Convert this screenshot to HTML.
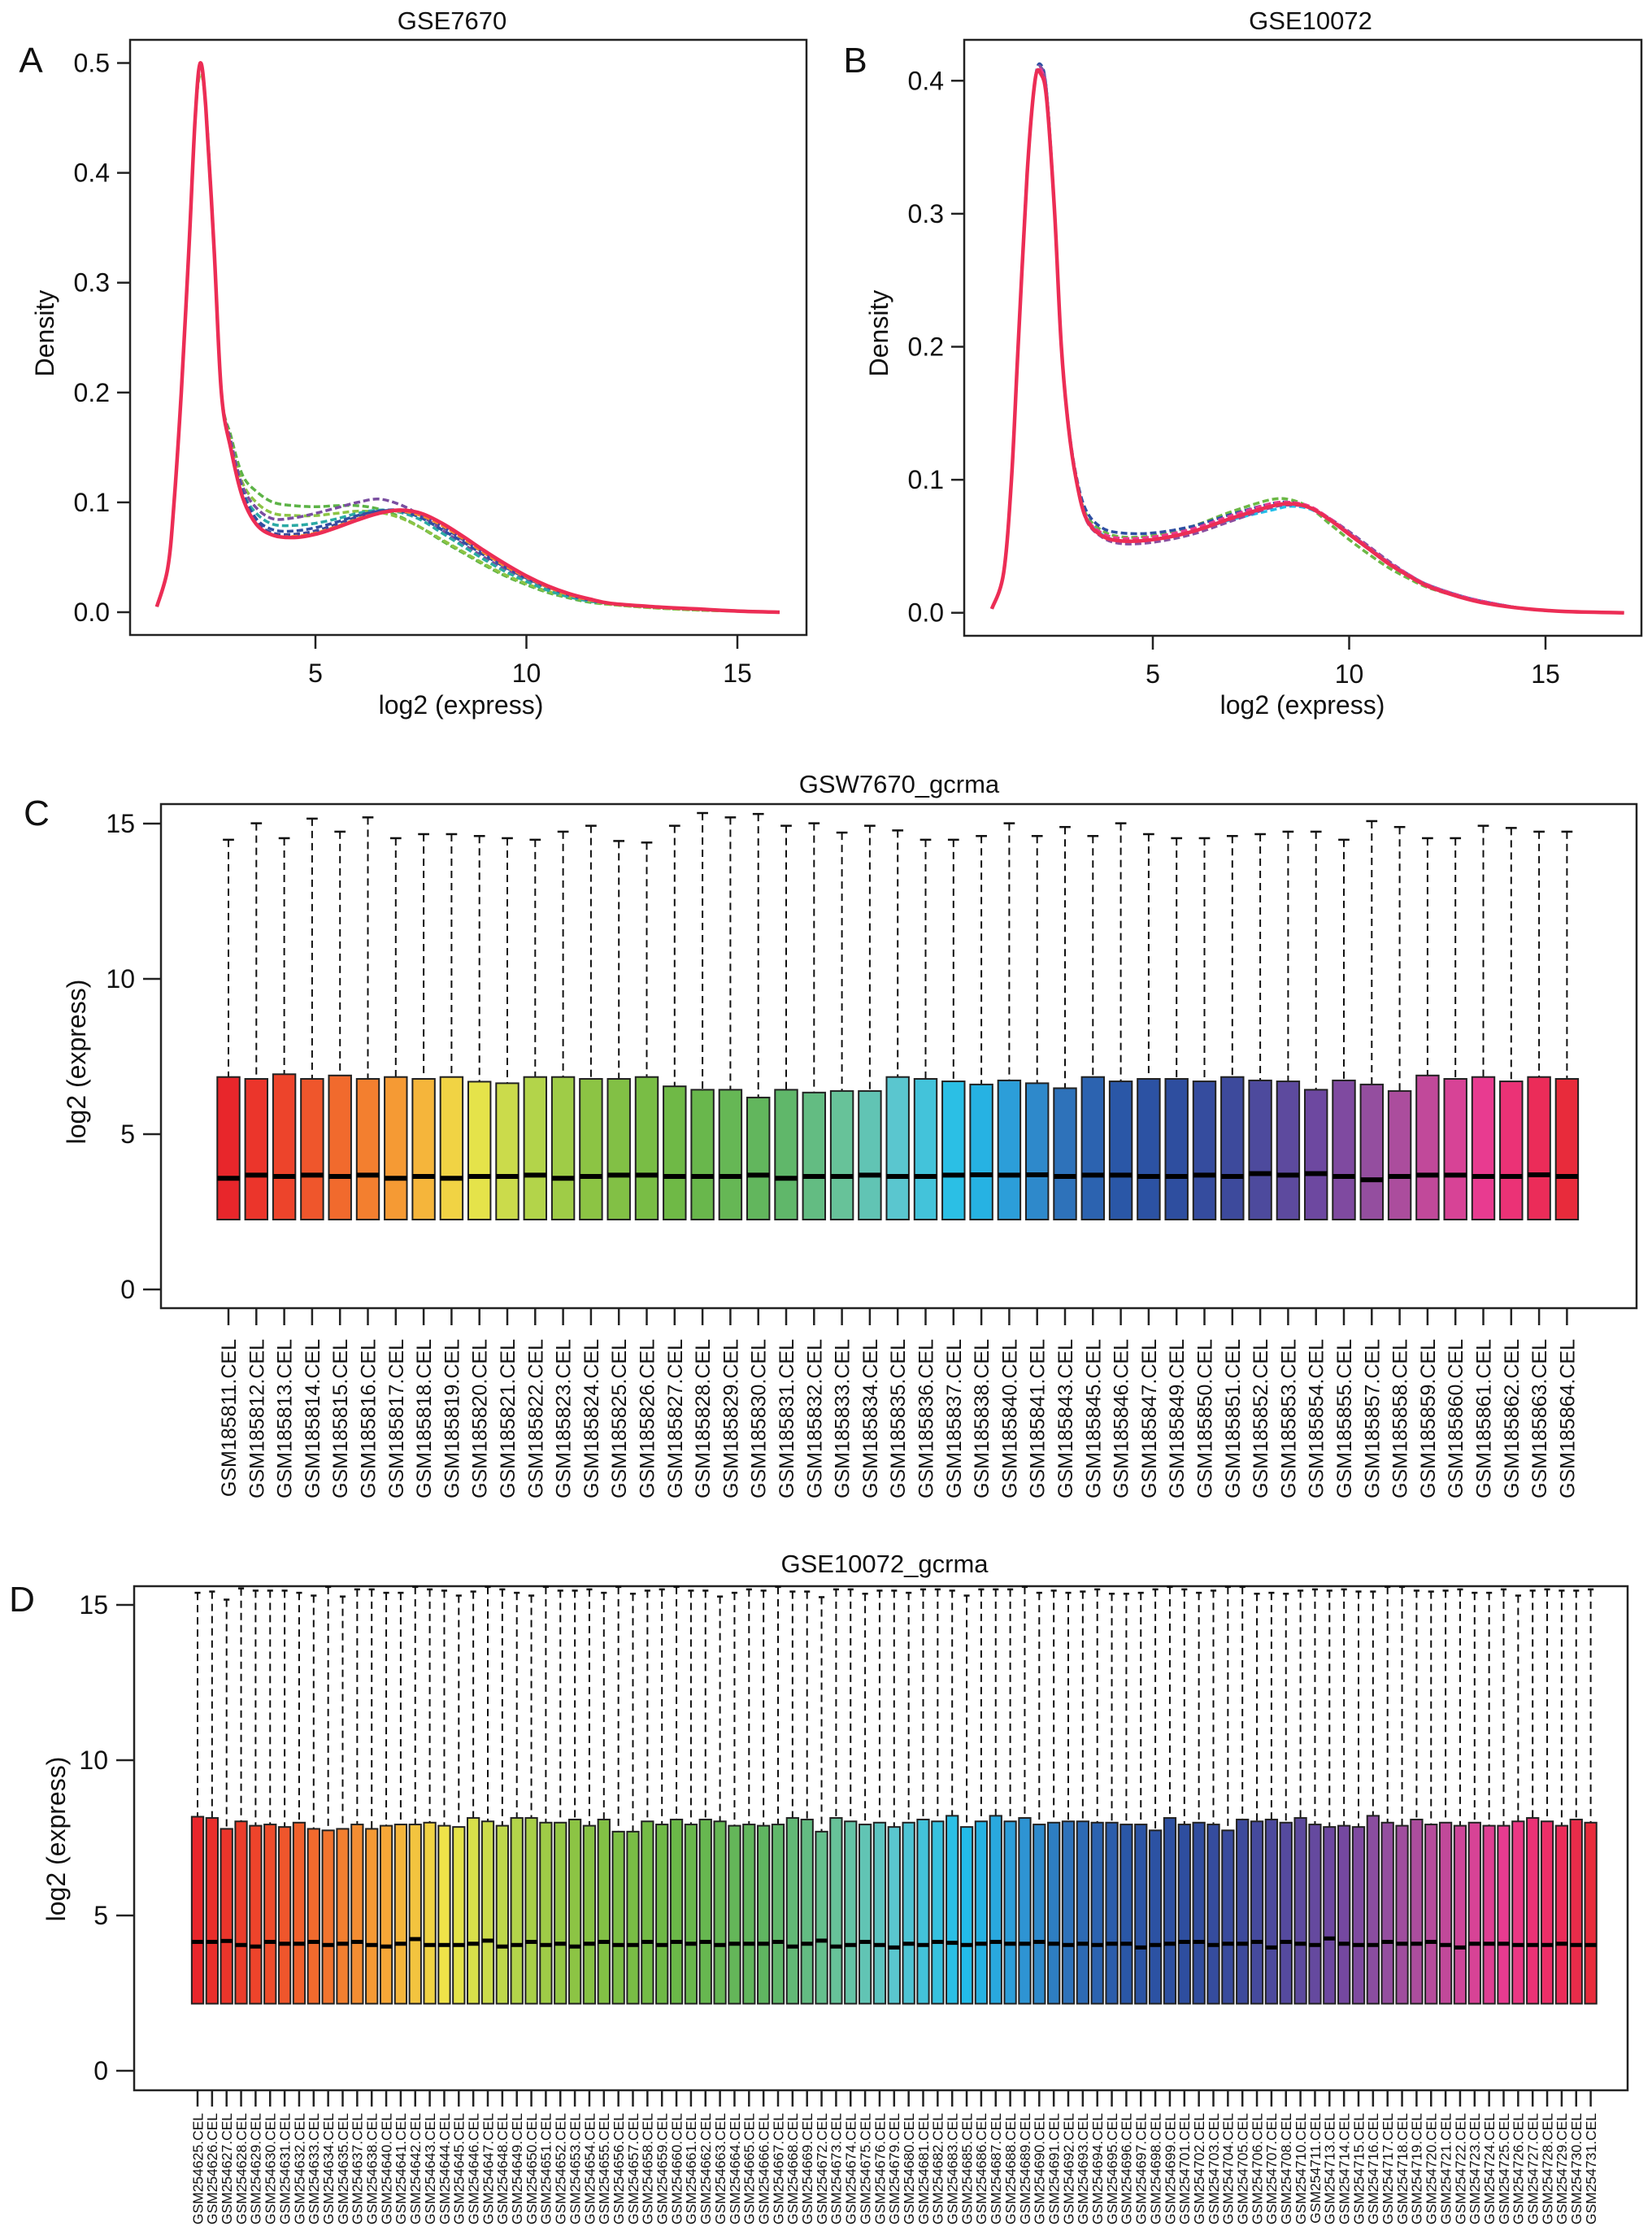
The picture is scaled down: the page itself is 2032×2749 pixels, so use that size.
<!DOCTYPE html>
<html><head><meta charset="utf-8"><style>
html,body{margin:0;padding:0;background:#fff}
svg{display:block}
text{font-family:"Liberation Sans",Arial,sans-serif;fill:#111}
</style></head><body>
<svg id="root" width="2032" height="2749" viewBox="0 0 2032 2749" xmlns="http://www.w3.org/2000/svg">
<g id="gA"></g>
<g id="gB"></g>
<g id="gC"></g>
<g id="gD"></g>
</svg>
<script>
// ---------- Panel A data ----------
const xA = [1.24,1.5,1.65,1.82,2.0,2.15,2.27,2.4,2.6,2.77,3.0,3.27,3.6,4.0,4.5,5.0,5.5,6.0,6.5,7.0,7.5,8.0,8.5,9.0,9.5,10,10.5,11,11.5,12,13,14,15,16];
const aGreen  = [.005,.04,.1,.2,.33,.45,.49,.46,.33,.2,.16,.125,.11,.1,.097,.096,.097,.097,.094,.087,.077,.065,.054,.043,.033,.025,.018,.013,.009,.007,.004,.002,.001,0];
const aGreen2 = [.005,.04,.1,.2,.33,.45,.49,.46,.33,.2,.155,.118,.1,.09,.088,.088,.09,.092,.091,.086,.077,.066,.055,.044,.034,.026,.019,.014,.01,.007,.004,.002,.001,0];
const aPurple = [.005,.04,.1,.2,.33,.45,.5,.46,.33,.2,.155,.115,.095,.085,.086,.09,.095,.1,.103,.098,.088,.075,.062,.05,.039,.03,.022,.015,.011,.008,.005,.003,.001,0];
const aTeal   = [.005,.04,.1,.2,.33,.45,.5,.46,.33,.2,.15,.11,.09,.08,.079,.081,.085,.09,.093,.091,.084,.072,.06,.048,.037,.028,.02,.014,.01,.008,.005,.003,.001,0];
const aBlue   = [.005,.04,.1,.2,.33,.45,.5,.46,.33,.2,.15,.11,.085,.075,.074,.077,.082,.088,.092,.092,.086,.075,.064,.052,.041,.031,.023,.016,.011,.008,.005,.003,.001,0];
const aBlue2  = [.005,.04,.1,.2,.33,.45,.5,.46,.33,.2,.15,.108,.082,.072,.071,.074,.08,.087,.092,.093,.088,.078,.066,.054,.042,.032,.023,.016,.011,.008,.005,.003,.001,0];
const aOrange = [.005,.04,.1,.2,.33,.45,.5,.46,.33,.2,.148,.105,.08,.07,.069,.072,.078,.085,.09,.092,.088,.079,.067,.054,.042,.032,.023,.016,.011,.008,.005,.003,.001,0];
const aRed    = [.005,.04,.1,.2,.33,.45,.5,.46,.33,.2,.148,.105,.08,.07,.068,.071,.077,.084,.09,.093,.09,.081,.069,.056,.044,.033,.024,.017,.012,.008,.005,.003,.001,0];
const seriesA = [aGreen,aGreen2,aPurple,aTeal,aBlue,aBlue2,aOrange,aRed];
const ticksAx = [5,10,15];
const ticksAy = [0,0.1,0.2,0.3,0.4,0.5];
const ticksAyLbl = ["0.0","0.1","0.2","0.3","0.4","0.5"];

// ---------- Panel B data ----------
const xB = [0.9,1.2,1.4,1.57,1.8,2.0,2.15,2.3,2.5,2.67,2.85,3.05,3.3,3.7,4.2,5,6,7,8,8.5,9,9.5,10,10.5,11,11.5,12,12.8,13.5,14.5,15.5,17];
const bGreen  = [.003,.03,.1,.2,.33,.4,.41,.39,.3,.2,.14,.1,.074,.062,.057,.058,.065,.076,.085,.085,.079,.067,.055,.044,.034,.026,.019,.012,.007,.003,.001,0];
const bBlue   = [.003,.03,.1,.2,.33,.4,.412,.39,.3,.2,.142,.103,.077,.064,.06,.06,.065,.074,.082,.083,.079,.07,.059,.048,.038,.028,.021,.013,.008,.003,.001,0];
const bCyan   = [.003,.03,.1,.2,.33,.4,.41,.39,.3,.2,.14,.1,.072,.059,.054,.055,.061,.07,.077,.08,.078,.07,.06,.049,.038,.029,.021,.013,.008,.003,.001,0];
const bPurple = [.003,.03,.1,.2,.33,.4,.41,.39,.3,.2,.14,.1,.07,.057,.052,.053,.059,.069,.079,.081,.079,.071,.061,.05,.039,.029,.021,.013,.008,.003,.001,0];
const bPink   = [.003,.03,.1,.2,.33,.4,.408,.388,.3,.2,.14,.1,.072,.06,.056,.057,.063,.073,.082,.083,.08,.071,.06,.049,.038,.029,.021,.013,.008,.003,.001,0];
const bRed    = [.003,.03,.1,.2,.33,.4,.405,.385,.3,.2,.14,.1,.071,.058,.054,.055,.061,.071,.08,.082,.079,.07,.059,.048,.037,.028,.02,.012,.007,.003,.001,0];
const seriesB = [bGreen,bBlue,bCyan,bPurple,bPink,bRed];
const ticksBx = [5,10,15];
const ticksBy = [0,0.1,0.2,0.3,0.4];
const ticksByLbl = ["0.0","0.1","0.2","0.3","0.4"];

// ---------- Panel C data ----------
const namesC = ["811","812","813","814","815","816","817","818","819","820","821","822","823","824","825","826","827","828","829","830","831","832","833","834","835","836","837","838","840","841","843","845","846","847","849","850","851","852","853","854","855","857","858","859","860","861","862","863","864"];
const q3C = [6.84,6.78,6.93,6.78,6.89,6.78,6.84,6.78,6.84,6.69,6.64,6.84,6.84,6.78,6.78,6.84,6.54,6.43,6.43,6.18,6.43,6.34,
 6.39,6.39,6.84,6.78,6.70,6.60,6.73,6.64,6.48,6.84,6.70,6.78,6.78,6.70,6.84,6.73,6.70,6.43,6.73,6.60,6.39,6.89,6.78,6.84,6.70,6.84,6.78];
const medC = [3.58,3.68,3.64,3.68,3.64,3.68,3.58,3.64,3.58,3.64,3.64,3.68,3.58,3.64,3.68,3.68,3.64,3.64,3.64,3.68,3.58,3.64,
 3.64,3.68,3.64,3.64,3.68,3.69,3.68,3.69,3.64,3.68,3.68,3.64,3.64,3.68,3.64,3.73,3.68,3.73,3.64,3.53,3.64,3.68,3.68,3.64,3.64,3.69,3.64];
const maxC = [14.48,15.01,14.53,15.16,14.74,15.20,14.53,14.66,14.66,14.60,14.53,14.48,14.74,14.93,14.44,14.39,14.93,15.34,15.20,15.31,14.93,15.01,
 14.71,14.93,14.78,14.48,14.48,14.60,15.01,14.60,14.89,14.60,15.01,14.66,14.53,14.53,14.60,14.66,14.74,14.74,14.48,15.08,14.89,14.53,14.53,14.93,14.86,14.74,14.74];
const q1C = 2.25;
const ticksC = [0,5,10,15];

// ---------- Panel D data ----------
const namesD = ["625","626","627","628","629","630","631","632","633","634","635","637","638","640","641","642","643","644","645","646","647","648","649","650","651","652","653","654","655","656","657","658","659","660","661","662","663","664","665","666","667","668","669",
 "672","673","674","675","676","679","680","681","682","683","685","686","687","688","689","690","691","692","693","694","695","696","697","698","699","701","702","703","704","705","706","707","708","710","711","713","714","715","716","717","718","719","720","721","722","723","724","725","726","727","728","729","730","731"];
const q3D = [8.18,8.14,7.79,8.03,7.89,7.93,7.85,7.99,7.79,7.74,7.79,7.93,7.79,7.89,7.93,7.93,7.99,7.89,7.85,8.14,8.03,7.89,8.14,8.14,7.99,7.99,8.09,7.89,8.09,7.70,7.70,8.03,7.93,8.09,7.93,8.09,8.03,7.89,7.93,7.89,7.93,8.14,8.09,
 7.70,8.14,8.03,7.93,7.99,7.85,7.99,8.09,8.03,8.21,7.85,8.03,8.21,8.03,8.14,7.93,7.99,8.03,8.03,7.99,7.99,7.93,7.93,7.74,8.14,7.93,7.99,7.93,7.74,8.09,8.03,8.09,7.99,8.14,7.93,7.85,7.89,7.85,8.21,7.99,7.89,8.09,7.93,7.99,7.89,7.99,7.89,7.89,8.03,8.14,8.03,7.89,8.09,7.99];
const medD = [4.15,4.15,4.18,4.05,4.00,4.15,4.09,4.09,4.15,4.05,4.09,4.15,4.05,4.00,4.09,4.24,4.05,4.05,4.05,4.09,4.19,4.00,4.05,4.15,4.05,4.09,4.00,4.09,4.15,4.05,4.05,4.15,4.05,4.15,4.09,4.15,4.05,4.09,4.09,4.09,4.15,4.00,4.09,
 4.19,4.00,4.05,4.15,4.05,3.97,4.09,4.05,4.15,4.12,4.05,4.09,4.15,4.09,4.09,4.15,4.09,4.05,4.09,4.05,4.09,4.09,3.97,4.05,4.09,4.15,4.15,4.05,4.09,4.09,4.15,3.97,4.15,4.09,4.05,4.26,4.09,4.05,4.05,4.15,4.09,4.09,4.15,4.05,3.97,4.09,4.09,4.09,4.05,4.05,4.05,4.09,4.05,4.05];
const maxD = [15.39,15.43,15.17,15.53,15.46,15.46,15.46,15.39,15.30,15.58,15.27,15.50,15.50,15.39,15.39,15.58,15.50,15.46,15.30,15.43,15.58,15.50,15.39,15.30,15.58,15.46,15.46,15.50,15.39,15.58,15.36,15.46,15.50,15.58,15.46,15.46,15.27,15.39,15.50,15.46,15.58,15.43,15.43,
 15.25,15.50,15.50,15.36,15.46,15.46,15.39,15.50,15.50,15.46,15.30,15.50,15.50,15.50,15.58,15.39,15.46,15.39,15.43,15.50,15.36,15.36,15.39,15.50,15.58,15.50,15.39,15.46,15.58,15.58,15.36,15.39,15.36,15.46,15.50,15.46,15.50,15.43,15.43,15.58,15.58,15.46,15.43,15.46,15.50,15.39,15.39,15.50,15.30,15.46,15.50,15.46,15.46,15.50];
const q1D = 2.16;
const ticksD = [0,5,10,15];

// ---------- helpers ----------
const NS = "http://www.w3.org/2000/svg";
function mk(parent, tag, attrs, txt){
  const e = document.createElementNS(NS, tag);
  for (const k in attrs) e.setAttribute(k, attrs[k]);
  if (txt !== undefined) e.textContent = txt;
  parent.appendChild(e);
  return e;
}
const palStops = [[0,"#e8262b"],[0.05,"#ee4a2b"],[0.1,"#f37a2e"],[0.14,"#f6ad38"],[0.18,"#eee64a"],[0.22,"#bcd74b"],[0.27,"#8cc444"],[0.34,"#6cb846"],[0.41,"#5fb563"],[0.46,"#67c29b"],[0.5,"#5ac6cf"],[0.55,"#22bee9"],[0.59,"#2e98d6"],[0.63,"#2e6db6"],[0.67,"#2a55a6"],[0.71,"#2e4e9f"],[0.75,"#3d4a9c"],[0.79,"#5c4a9e"],[0.82,"#7247a0"],[0.85,"#904e9f"],[0.88,"#b04d9d"],[0.91,"#d14598"],[0.94,"#ea3a8f"],[0.97,"#ec2d66"],[1,"#e82b3b"]];
function hex2rgb(h){return [1,3,5].map(i=>parseInt(h.substr(i,2),16));}
function rainbow(t){
  let i = 0;
  while (i < palStops.length-2 && t > palStops[i+1][0]) i++;
  const f = (t-palStops[i][0])/(palStops[i+1][0]-palStops[i][0]);
  const a = hex2rgb(palStops[i][1]), b = hex2rgb(palStops[i+1][1]);
  return "rgb("+a.map((v,k)=>Math.round(v+(b[k]-v)*f)).join(",")+")";
}
function smoothPath(pts){
  let d = "M"+pts[0][0].toFixed(1)+","+pts[0][1].toFixed(1);
  for (let i=0;i<pts.length-1;i++){
    const p0=pts[Math.max(0,i-1)], p1=pts[i], p2=pts[i+1], p3=pts[Math.min(pts.length-1,i+2)];
    const c1=[p1[0]+(p2[0]-p0[0])/6, p1[1]+(p2[1]-p0[1])/6];
    const c2=[p2[0]-(p3[0]-p1[0])/6, p2[1]-(p3[1]-p1[1])/6];
    d += " C"+c1[0].toFixed(1)+","+c1[1].toFixed(1)+" "+c2[0].toFixed(1)+","+c2[1].toFixed(1)+" "+p2[0].toFixed(1)+","+p2[1].toFixed(1);
  }
  return d;
}

// ---------- density panel ----------
function densityPanel(g, cfg){
  const sx = v => cfg.x0 + v*cfg.kx;
  const sy = v => cfg.y0 - v*cfg.ky;
  const frame = mk(g,"rect",{x:cfg.L,y:cfg.T,width:cfg.R-cfg.L,height:cfg.B-cfg.T,fill:"none",stroke:"#222","stroke-width":2.5});
  
  
  const t = mk(g,"text",{x:cfg.titleX,y:cfg.T-13,"font-size":31,"text-anchor":"middle"},cfg.title);
  
  
  const pl = mk(g,"text",{x:cfg.letterX,y:cfg.T+40,"font-size":44,"text-anchor":"middle"},cfg.letter);
  
  
  cfg.ticksY.forEach((v,i)=>{
    const y = sy(v);
    const tk = mk(g,"line",{x1:cfg.L-16,x2:cfg.L,y1:y,y2:y,stroke:"#222","stroke-width":2.5});
    
    
    const tl = mk(g,"text",{x:cfg.L-25,y:y+11,"font-size":32,"text-anchor":"end"},cfg.ticksYLbl[i]);
    
    
  });
  cfg.ticksX.forEach(v=>{
    const x = sx(v);
    const tk = mk(g,"line",{x1:x,x2:x,y1:cfg.B,y2:cfg.B+17,stroke:"#222","stroke-width":2.5});
    
    
    const tl = mk(g,"text",{x:x,y:cfg.B+58,"font-size":32,"text-anchor":"middle"},String(v));
    
    
  });
  const xl = mk(g,"text",{x:cfg.xlabX,y:878,"font-size":32,"text-anchor":"middle"},"log2 (express)");
  
  
  const yl = mk(g,"text",{x:0,y:0,"font-size":32,"text-anchor":"middle",transform:"translate("+(cfg.ylabX)+",410) rotate(-90)"},"Density");
  
  
  cfg.series.forEach((ys,si)=>{
    const pts = cfg.xs.map((xv,i)=>[sx(xv), sy(ys[i])]);
    const last = si===cfg.series.length-1;
    const p = mk(g,"path",{d:smoothPath(pts),fill:"none",stroke:cfg.colors[si],"stroke-width":last?4.5:3.5,"stroke-dasharray":last?"none":"8,4"});
    
    
  });
}
densityPanel(document.getElementById("gA"),{L:160,R:992,T:49,B:781,x0:128.5,kx:51.9,y0:753,ky:1351,
  title:"GSE7670",titleX:556,letter:"A",letterX:38,xlabX:567,ylabX:66,
  ticksX:ticksAx,ticksY:ticksAy,ticksYLbl:ticksAyLbl,xs:xA,series:seriesA,
  colors:["#5cb346","#8cc444","#7a4ea0","#2aa9a4","#2f4fa3","#3d4a9c","#f08a2e","#ec2d55"]});
densityPanel(document.getElementById("gB"),{L:1186,R:2019,T:49,B:782,x0:1176.5,kx:48.3,y0:753.7,ky:1636,
  title:"GSE10072",titleX:1612,letter:"B",letterX:1052,xlabX:1602,ylabX:1092,
  ticksX:ticksBx,ticksY:ticksBy,ticksYLbl:ticksByLbl,xs:xB,series:seriesB,
  colors:["#6cb846","#2f4fa3","#22bee9","#8a4e9f","#e93a8f","#ec2d55"]});

// ---------- box panel ----------
function boxPanel(g, cfg){
  const sy = v => cfg.y0 - v*cfg.ky;
  const frame = mk(g,"rect",{x:cfg.L,y:cfg.T,width:cfg.R-cfg.L,height:cfg.B-cfg.T,fill:"none",stroke:"#222","stroke-width":2.5});
  
  
  const t = mk(g,"text",{x:cfg.titleX,y:cfg.titleY,"font-size":31,"text-anchor":"middle"},cfg.title);
  
  
  const pl = mk(g,"text",{x:cfg.letterX,y:cfg.letterY,"font-size":44,"text-anchor":"middle"},cfg.letter);
  
  
  cfg.ticks.forEach(v=>{
    const y = sy(v);
    const tk = mk(g,"line",{x1:cfg.L-22,x2:cfg.L,y1:y,y2:y,stroke:"#222","stroke-width":2.5});
    
    
    const tl = mk(g,"text",{x:cfg.L-32,y:y+11,"font-size":32,"text-anchor":"end"},String(v));
    
    
  });
  const yl = mk(g,"text",{x:0,y:0,"font-size":32,"text-anchor":"middle",transform:"translate("+cfg.ylabX+","+cfg.ylabY+") rotate(-90)"},"log2 (express)");
  
  
  const n = cfg.names.length;
  const bw = cfg.sp*0.8;
  for (let i=0;i<n;i++){
    const cx = cfg.x1 + i*cfg.sp;
    const col = rainbow(i/(n-1));
    const w = mk(g,"line",{x1:cx,x2:cx,y1:sy(cfg.max[i]),y2:sy(cfg.q3[i]),stroke:"#111","stroke-width":2,"stroke-dasharray":"9,6"});
    
    
    const cap = mk(g,"line",{x1:cx-bw/4,x2:cx+bw/4,y1:sy(cfg.max[i]),y2:sy(cfg.max[i]),stroke:"#111","stroke-width":2.5});
    
    
    const b = mk(g,"rect",{x:cx-bw/2,y:sy(cfg.q3[i]),width:bw,height:sy(cfg.q1)-sy(cfg.q3[i]),fill:col,stroke:"#222","stroke-width":2});
    
    
    const m = mk(g,"line",{x1:cx-bw/2,x2:cx+bw/2,y1:sy(cfg.med[i]),y2:sy(cfg.med[i]),stroke:"#000","stroke-width":cfg.medW});
    
    
    const tk = mk(g,"line",{x1:cx,x2:cx,y1:cfg.B,y2:cfg.B+cfg.tickLen,stroke:"#222","stroke-width":2.5});
    
    
    const lab = mk(g,"text",{x:0,y:0,"font-size":cfg.labFs,"text-anchor":"end",transform:"translate("+(cx+cfg.labFs*0.36)+","+cfg.labTop+") rotate(-90)"},cfg.prefix+cfg.names[i]+".CEL");
    
    
  }
}
boxPanel(document.getElementById("gC"),{L:198,R:2013,T:989,B:1609,y0:1586,ky:38.2,
  title:"GSW7670_gcrma",titleX:1106,titleY:975,letter:"C",letterX:45,letterY:1015,ylabX:105,ylabY:1306,
  ticks:ticksC,names:namesC,prefix:"GSM185",q3:q3C,med:medC,max:maxC,q1:q1C,
  x1:281,sp:34.3,medW:6,tickLen:21,labFs:25,labTop:1647});
boxPanel(document.getElementById("gD"),{L:165,R:2002,T:1951,B:2571,y0:2547,ky:38.2,
  title:"GSE10072_gcrma",titleX:1088,titleY:1934,letter:"D",letterX:27,letterY:1982,ylabX:80,ylabY:2262,
  ticks:ticksD,names:namesD,prefix:"GSM254",q3:q3D,med:medD,max:maxD,q1:q1D,
  x1:243,sp:17.85,medW:5,tickLen:20,labFs:17.5,labTop:2599});
</script>
</body></html>
